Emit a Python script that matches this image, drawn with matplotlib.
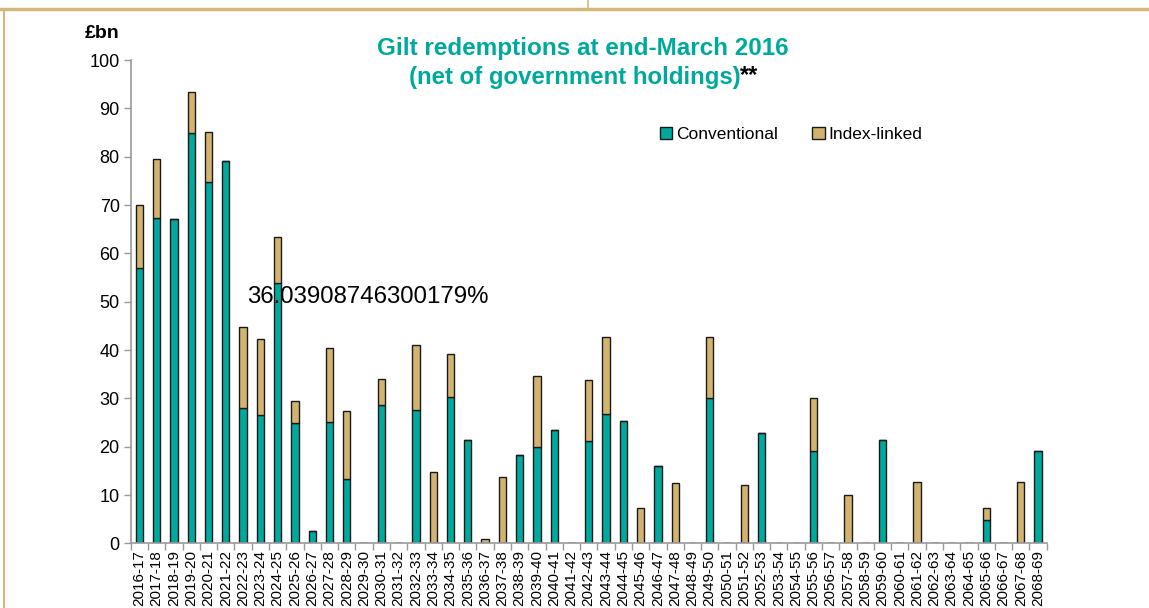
import matplotlib
matplotlib.use("Agg")
import matplotlib.pyplot as plt
from matplotlib.lines import Line2D
from matplotlib.patches import Patch
from matplotlib import font_manager
import numpy as np

years = [f"{y}-{str(y + 1)[-2:]}" for y in range(2016, 2069)]

conventional = [57.0, 67.4, 67.2, 84.8, 74.8, 79.2, 28.0, 26.6, 53.9, 25.0,
                2.5, 25.2, 13.4, 0, 28.7, 0, 27.6, 0, 30.4, 21.4,
                0, 0, 18.3, 20.0, 23.4, 0, 21.1, 26.8, 25.4, 0,
                16.1, 0, 0, 30.1, 0, 0, 22.8, 0, 0, 19.1,
                0, 0, 0, 21.4, 0, 0, 0, 0, 0, 4.8,
                0, 0, 19.2]
total = [70.0, 79.6, 67.2, 93.3, 85.2, 79.2, 44.7, 42.3, 63.4, 29.5,
         2.5, 40.4, 27.5, 0, 34.1, 0, 41.1, 14.7, 39.2, 21.4,
         0.9, 13.8, 18.3, 34.6, 23.4, 0, 33.9, 42.8, 25.4, 7.3,
         16.1, 12.5, 0, 42.8, 0, 12.1, 22.8, 0, 0, 30.1,
         0, 10.1, 0, 21.4, 0, 12.8, 0, 0, 0, 7.3,
         0, 12.8, 19.2]
index_linked = [t - c for t, c in zip(total, conventional)]

annotation = "36.03908746300179%"

TEAL = "#00A99D"
TAN = "#D2B370"
FRAME = "#D5B77C"

available = {f.name for f in font_manager.fontManager.ttflist}
base = ["Liberation Sans", "DejaVu Sans"]
narrow = (["Liberation Sans Narrow"] if "Liberation Sans Narrow" in available else []) + base
plt.rcParams["font.family"] = base

fig = plt.figure(figsize=(11.49, 6.08), dpi=100)
ax = fig.add_axes([0.1138, 0.1061, 0.7972, 0.7952])

x = np.arange(len(years))
w = 0.42
ax.bar(x, conventional, width=w, color=TEAL, edgecolor="#1a1a1a", linewidth=1.0)
ax.bar(x, index_linked, width=w, bottom=conventional, color=TAN,
       edgecolor="#1a1a1a", linewidth=1.0)

ax.set_xlim(-0.5, len(years) - 0.5)
ax.set_ylim(0, 100)
ax.set_yticks(np.arange(0, 101, 10))
ax.tick_params(axis="y", labelsize=13, length=5, width=1, color="#999999",
               direction="out", pad=3)
ax.set_xticks(x)
ax.set_xticklabels(years, rotation=90, fontsize=11, family=narrow)
ax.set_xticks(np.arange(-0.5, len(years), 1.0), minor=True)
ax.tick_params(axis="x", which="major", length=0, pad=5)
ax.tick_params(axis="x", which="minor", length=5, width=1, color="#999999",
               direction="out")
for s in ["top", "right"]:
    ax.spines[s].set_visible(False)
for s in ["left", "bottom"]:
    ax.spines[s].set_color("#999999")
    ax.spines[s].set_linewidth(1.2)

fig.text(0.0735, 0.945, "£bn", fontsize=14, fontweight="bold", ha="left", va="center")

t1 = fig.text(0.5075, 0.921, "Gilt redemptions at end-March 2016",
              fontsize=17.5, fontweight="bold", color=TEAL, ha="center", va="center")
t2 = fig.text(0.5, 0.873, "(net of government holdings)",
              fontsize=17.3, fontweight="bold", color=TEAL, ha="center", va="center")
fig.canvas.draw()
bb = t2.get_window_extent()
fig.text(bb.x1 / fig.bbox.width, 0.876, "**", fontsize=17, fontweight="bold",
         color="black", ha="left", va="center")

fig.text(0.215, 0.511, annotation, fontsize=17.3, ha="left", va="center")

handles = [Patch(facecolor=TEAL, edgecolor="#1a1a1a", linewidth=1.0),
           Patch(facecolor=TAN, edgecolor="#1a1a1a", linewidth=1.0)]
fig.legend(handles, ["Conventional", "Index-linked"], loc="center",
           bbox_to_anchor=(0.6885, 0.779), ncol=2, frameon=False, fontsize=12.5,
           handlelength=0.7, handleheight=0.7, handletextpad=0.2,
           columnspacing=2.0, borderaxespad=0)

# page frame fragments
fig.add_artist(Line2D([0, 1], [1 - 9 / 608, 1 - 9 / 608], transform=fig.transFigure,
                      color=FRAME, linewidth=2.5))
fig.add_artist(Line2D([3.5 / 1149, 3.5 / 1149], [0, 1 - 9 / 608], transform=fig.transFigure,
                      color=FRAME, linewidth=1.5))
fig.add_artist(Line2D([588 / 1149, 588 / 1149], [1 - 9 / 608, 1], transform=fig.transFigure,
                      color=FRAME, linewidth=1.2))

fig.savefig("out.png", dpi=100)
